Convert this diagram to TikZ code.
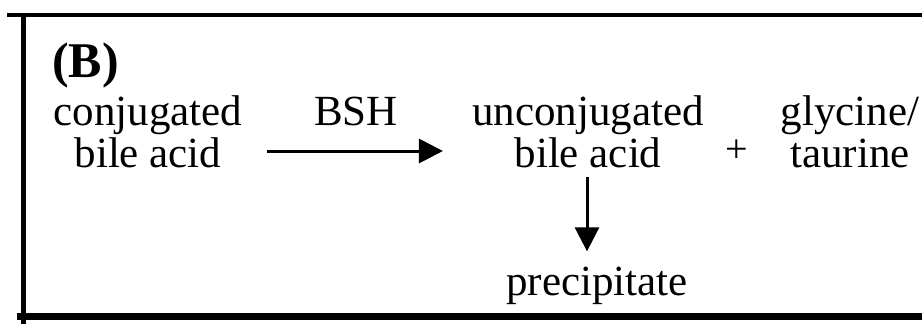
\documentclass[tikz,border=0pt]{standalone}
\usepackage{fontspec}
\setmainfont{Liberation Serif}
\usetikzlibrary{arrows.meta}
\begin{document}
\begin{tikzpicture}[x=1pt,y=-1pt,
  txt/.style={inner sep=0pt, align=center, font=\fontsize{43}{42}\selectfont},
  arr/.style={line width=3pt, -{Triangle[length=24pt,width=24pt]}},
  frameline/.style={line cap=butt}]
\useasboundingbox (0,0) rectangle (922,324);
% frame
\draw[frameline, line width=4.5pt] (7,15) -- (922,15);
\draw[frameline, line width=5pt] (23,13) -- (23,324);
\draw[frameline, line width=7pt] (17,316) -- (922,316);
% texts
\node[txt, anchor=base west, font=\bfseries\fontsize{50}{50}\selectfont] (lbl) at (52,77) {(B)};
\node[txt, anchor=base] (conj) at (148,167) {conjugated\\bile acid};
\node[txt, anchor=base] (bsh) at (356,125) {BSH};
\node[txt, anchor=base] (unconj) at (588,167) {unconjugated\\bile acid};
\node[txt, anchor=base] (gly) at (850,167) {glycine/\\taurine};
\node[txt, anchor=base, font=\fontsize{40}{40}\selectfont] (plus) at (737,162) {+};
\node[txt, anchor=base] (precip) at (597,295) {precipitate};
% arrows
\coordinate (ay) at (0,151);
\draw[arr] ([xshift=24pt]conj.east |- ay) -- ([xshift=-29pt]unconj.west |- ay);
\draw[arr] ([xshift=-1pt,yshift=-9pt]unconj.south) -- ([xshift=-1pt,yshift=15pt]unconj.south |- precip.north);
\end{tikzpicture}
\end{document}
